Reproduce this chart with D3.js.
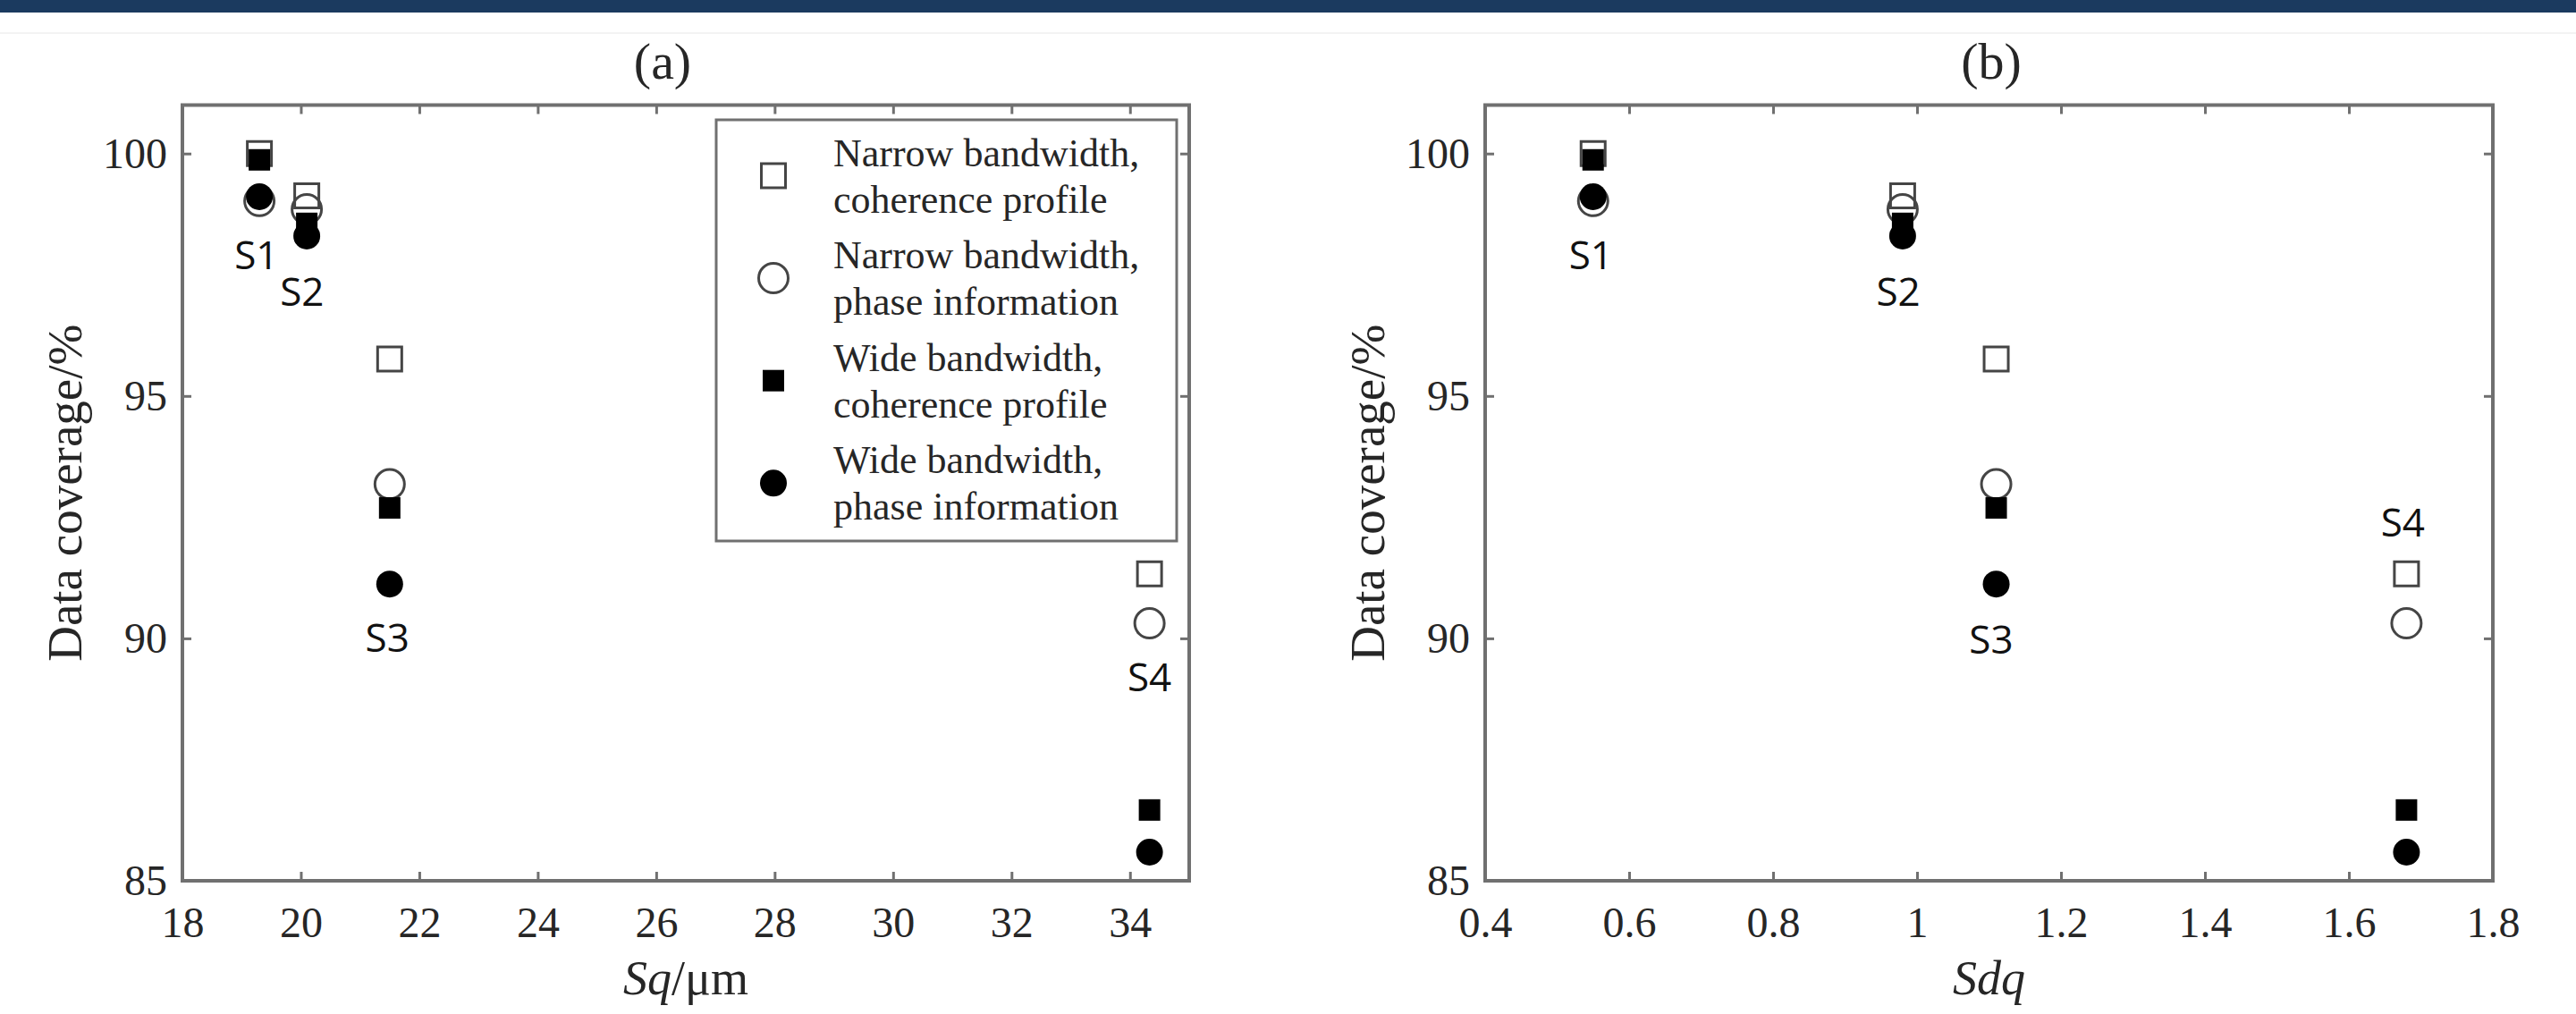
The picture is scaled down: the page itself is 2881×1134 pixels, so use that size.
<!DOCTYPE html>
<html>
<head>
<meta charset="utf-8">
<script src="https://cdn.jsdelivr.net/npm/d3@7"></script>
<style>
  html, body { margin: 0; padding: 0; background: #fff; }
  svg { display: block; }
</style>
</head>
<body>
<svg id="chart"></svg>
<script>
// samples and their surface parameters
const sampleNames = ["S1", "S2", "S3", "S4"]
const sq = [19.3, 20.1, 21.5, 34.33]
const sdq = [0.55, 0.98, 1.11, 1.68]

// data coverage (%) per method
const narrowCoherence = [100.0, 99.13, 95.76, 91.33]
const narrowPhase = [99.02, 98.85, 93.18, 90.31]
const wideCoherence = [99.87, 98.56, 92.69, 86.46]
const widePhase = [99.11, 98.30, 91.12, 85.59]

const seriesNames = [
  ["Narrow bandwidth,", "coherence profile"],
  ["Narrow bandwidth,", "phase information"],
  ["Wide bandwidth,", "coherence profile"],
  ["Wide bandwidth,", "phase information"]
]

// ticks
const yTicks = [85, 90, 95, 100]
const sqTicks = [18, 20, 22, 24, 26, 28, 30, 32, 34]
const sdqTicks = [0.4, 0.6, 0.8, 1, 1.2, 1.4, 1.6, 1.8]
const sdqTickLabels = ["0.4", "0.6", "0.8", "1", "1.2", "1.4", "1.6", "1.8"]

// where the sample names sit, in data units
const labelSqX = [19.25, 20.02, 21.46, 34.33]
const labelSqY = [97.9, 97.15, 90.02, 89.2]
const labelSdqX = [0.547, 0.974, 1.103, 1.675]
const labelSdqY = [97.9, 97.15, 89.98, 92.4]

const width = 2881
const height = 1134
const plotTop = 117.5
const plotBottom = 985

const serif = "'Times New Roman', 'Liberation Serif', serif"
const sans = "'Open Sans', 'Noto Sans', sans-serif"
const axisColor = "#707070"
const textColor = "#262626"

const svg = d3.select("#chart")
  .attr("width", width)
  .attr("height", height)

// header band
svg.append("rect")
  .attr("x", 0).attr("y", 0)
  .attr("width", width).attr("height", 14)
  .attr("fill", "#1b3a5f")
svg.append("line")
  .attr("x1", 0).attr("x2", width)
  .attr("y1", 37).attr("y2", 37)
  .attr("stroke", "#f3f3f3")
  .attr("stroke-width", 2)

const styles = [
  { type: d3.symbolSquare, size: 27 * 27, fill: "none", stroke: "#454545" },
  { type: d3.symbolCircle, size: Math.PI * 16.5 * 16.5, fill: "none", stroke: "#454545" },
  { type: d3.symbolSquare, size: 24 * 24, fill: "#000", stroke: "none" },
  { type: d3.symbolCircle, size: Math.PI * 15 * 15, fill: "#000", stroke: "none" }
]
const series = [narrowCoherence, narrowPhase, wideCoherence, widePhase]

const panels = [
  {
    left: 204, right: 1330, domain: [18, 35], xs: sq,
    ticks: sqTicks, tickLabels: sqTicks.map(String),
    title: "(a)", titleX: 741,
    xLabel: [["Sq", true], ["/μm", false]],
    labelX: labelSqX, labelY: labelSqY, legend: true
  },
  {
    left: 1661, right: 2788, domain: [0.4, 1.8], xs: sdq,
    ticks: sdqTicks, tickLabels: sdqTickLabels,
    title: "(b)", titleX: 2227,
    xLabel: [["Sdq", true]],
    labelX: labelSdqX, labelY: labelSdqY, legend: false
  }
]

function styleAxis(g) {
  g.select(".domain").remove()
  g.selectAll(".tick line")
    .attr("stroke", axisColor)
    .attr("stroke-width", 3)
  g.selectAll(".tick text")
    .attr("fill", textColor)
    .attr("font-family", serif)
    .attr("font-size", 48)
}

panels.forEach(p => {
  const x = d3.scaleLinear().domain(p.domain).range([p.left, p.right])
  const y = d3.scaleLinear().domain([85, 101]).range([plotBottom, plotTop])
  const g = svg.append("g")

  // axes, ticks pointing inward like MATLAB
  g.append("g")
    .attr("transform", `translate(0,${plotBottom})`)
    .call(d3.axisBottom(x).tickValues(p.ticks)
      .tickFormat((d, i) => p.tickLabels[i])
      .tickSizeInner(-10).tickSizeOuter(0).tickPadding(29))
    .call(styleAxis)

  g.append("g")
    .attr("transform", `translate(0,${plotTop})`)
    .call(d3.axisTop(x).tickValues(p.ticks).tickFormat("")
      .tickSizeInner(-10).tickSizeOuter(0))
    .call(styleAxis)

  g.append("g")
    .attr("transform", `translate(${p.left},0)`)
    .call(d3.axisLeft(y).tickValues(yTicks)
      .tickSizeInner(-10).tickSizeOuter(0).tickPadding(17))
    .call(styleAxis)

  g.append("g")
    .attr("transform", `translate(${p.right},0)`)
    .call(d3.axisRight(y).tickValues(yTicks).tickFormat("")
      .tickSizeInner(-10).tickSizeOuter(0))
    .call(styleAxis)

  // box
  g.append("rect")
    .attr("x", p.left).attr("y", plotTop)
    .attr("width", p.right - p.left).attr("height", plotBottom - plotTop)
    .attr("fill", "none")
    .attr("stroke", axisColor)
    .attr("stroke-width", 4)

  // markers
  series.forEach((vals, s) => {
    const st = styles[s]
    g.append("g")
      .selectAll("path")
      .data(vals)
      .join("path")
      .attr("d", d3.symbol().type(st.type).size(st.size))
      .attr("transform", (d, i) => `translate(${x(p.xs[i])},${y(d)})`)
      .attr("fill", st.fill)
      .attr("stroke", st.stroke)
      .attr("stroke-width", 3)
  })

  // sample names
  g.append("g")
    .selectAll("text")
    .data(sampleNames)
    .join("text")
    .attr("x", (d, i) => x(p.labelX[i]))
    .attr("y", (d, i) => y(p.labelY[i]))
    .attr("dy", "0.36em")
    .attr("text-anchor", "middle")
    .attr("font-family", sans)
    .attr("font-size", 44)
    .attr("fill", "#111")
    .text(d => d)

  // title
  g.append("text")
    .attr("x", p.titleX).attr("y", 88)
    .attr("text-anchor", "middle")
    .attr("font-family", serif)
    .attr("font-size", 58)
    .attr("fill", textColor)
    .text(p.title)

  // x label
  const xl = g.append("text")
    .attr("x", (p.left + p.right) / 2).attr("y", 1112)
    .attr("text-anchor", "middle")
    .attr("font-family", serif)
    .attr("font-size", 54)
    .attr("fill", textColor)
  p.xLabel.forEach(([t, it]) => {
    xl.append("tspan")
      .attr("font-style", it ? "italic" : "normal")
      .text(t)
  })

  // y label
  g.append("text")
    .attr("transform", `translate(${p.left - 113},${(plotTop + plotBottom) / 2}) rotate(-90)`)
    .attr("text-anchor", "middle")
    .attr("font-family", serif)
    .attr("font-size", 55)
    .attr("fill", textColor)
    .text("Data coverage/%")

  if (p.legend) {
    const lg = svg.append("g")
    lg.append("rect")
      .attr("x", 801).attr("y", 134)
      .attr("width", 515).attr("height", 471)
      .attr("fill", "#fff")
      .attr("stroke", axisColor)
      .attr("stroke-width", 3)

    const rows = lg.selectAll("g")
      .data(seriesNames)
      .join("g")
      .attr("transform", (d, i) => `translate(0,${185.5 + i * 114.6})`)

    rows.append("path")
      .attr("d", (d, i) => d3.symbol().type(styles[i].type).size(styles[i].size)())
      .attr("transform", "translate(865,11)")
      .attr("fill", (d, i) => styles[i].fill)
      .attr("stroke", (d, i) => styles[i].stroke)
      .attr("stroke-width", 3)

    rows.selectAll("text")
      .data(d => d)
      .join("text")
      .attr("x", 932)
      .attr("y", (d, j) => j * 52)
      .attr("font-family", serif)
      .attr("font-size", 44)
      .attr("fill", textColor)
      .text(d => d)
  }
})
</script>
</body>
</html>
